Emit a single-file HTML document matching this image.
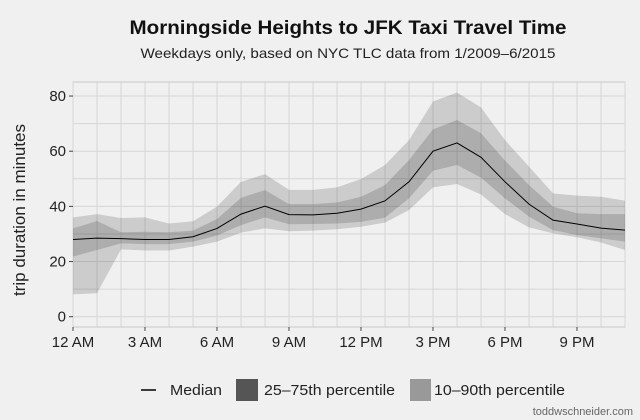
<!DOCTYPE html>
<html><head><meta charset="utf-8"><style>
html,body{margin:0;padding:0;background:#f0f0f0;}
svg{display:block;font-family:"Liberation Sans",sans-serif;}
</style></head><body>
<svg id="chart" width="640" height="420" viewBox="0 0 640 420">
<rect x="0" y="0" width="640" height="420" fill="#f0f0f0"/>
<text x="348" y="34" text-anchor="middle" font-size="19" font-weight="bold" fill="#111" textLength="437" lengthAdjust="spacingAndGlyphs">Morningside Heights to JFK Taxi Travel Time</text>
<text x="348" y="58" text-anchor="middle" font-size="14" fill="#222" textLength="415" lengthAdjust="spacingAndGlyphs">Weekdays only, based on NYC TLC data from 1/2009–6/2015</text>
<g id="grid"></g>
<g id="bands"></g>
<g id="axes"></g>
<text transform="translate(25,210) rotate(-90)" text-anchor="middle" font-size="17" fill="#222">trip duration in minutes</text>
<g>
<line x1="141" y1="390" x2="156" y2="390" stroke="#000" stroke-width="1.5"/>
<text x="170" y="395" font-size="15" fill="#222" textLength="52" lengthAdjust="spacingAndGlyphs">Median</text>
<rect x="236" y="379" width="22" height="22" fill="#555"/>
<text x="264" y="395" font-size="15" fill="#222" textLength="131" lengthAdjust="spacingAndGlyphs">25–75th percentile</text>
<rect x="410" y="379" width="21" height="22" fill="#999"/>
<text x="434" y="395" font-size="15" fill="#222" textLength="131" lengthAdjust="spacingAndGlyphs">10–90th percentile</text>
</g>
<text x="633" y="415" text-anchor="end" font-size="11" fill="#666">toddwschneider.com</text>
</svg>
<script>
const hours = [0,1,2,3,4,5,6,7,8,9,10,11,12,13,14,15,16,17,18,19,20,21,22,23];
const median = [28,28.5,28.3,28,28,29,32,37.2,40.1,37,36.9,37.5,39,42,48.9,60,63,57.8,48.9,40.8,35,33.6,32.1,31.4];
const p25 = [21.8,24.2,26.6,26.3,26.3,27.2,29.4,33.2,36,33.5,33.6,33.8,34.4,35.9,42.9,52.9,55,50.4,42.9,36.3,31.4,29.6,28.4,27.2];
const p75 = [32,34.7,30.6,30.8,30.6,31.2,35.4,43.1,45.9,40.8,40.8,41.4,43.5,47.7,56.8,67.9,71.3,66.5,56.6,47.7,39.9,37.5,37.2,37.2];
const p10 = [8.1,8.5,24.4,24,24,25.4,27.2,30.5,32,31,31.2,31.7,32.6,34.1,38.7,46.9,48.1,44.3,37.2,32.4,30.2,28.8,26.9,24.2];
const p90 = [36,37.2,35.8,36,33.8,34.6,39.9,48.9,51.7,46,46,46.9,49.9,55,64,78,81.3,75.9,64,54.4,44.7,43.9,43.5,42.1];
const yTicks = [0,20,40,60,80];
const xTickHours = [0,3,6,9,12,15,18,21];
const xTickLabels = ["12 AM","3 AM","6 AM","9 AM","12 PM","3 PM","6 PM","9 PM"];

const NS = "http://www.w3.org/2000/svg";
const L = 73, R = 625, T = 82, B = 327;
const x = h => L + (h / 23) * (R - L);
const y = v => 316.7 - v * 2.7583;
function mk(tag, attrs, parent){const e=document.createElementNS(NS,tag);for(const k in attrs)e.setAttribute(k,attrs[k]);parent.appendChild(e);return e;}

const grid = document.getElementById('grid');
const panel = mk('rect',{x:L,y:T,width:R-L,height:B-T,fill:'#f0f0f0',stroke:'#c8c8c8','stroke-width':1},grid);


for (let v = 0; v <= 80; v += 10) {
  const g = mk('line',{x1:L,x2:R,y1:y(v),y2:y(v),stroke:'#d6d6d6','stroke-width':1},grid);
  
  
}
for (const h of hours) {
  const g = mk('line',{x1:x(h),x2:x(h),y1:T,y2:B,stroke:'#d6d6d6','stroke-width':1},grid);
  
  
}

const bands = document.getElementById('bands');
function bandPath(lo, hi){
  let d = hours.map((h,i)=>(i?'L':'M')+x(h)+','+y(hi[i])).join(' ');
  for (let i = hours.length-1; i >= 0; i--) d += ' L'+x(hours[i])+','+y(lo[i]);
  return d+' Z';
}
const outer = mk('path',{d:bandPath(p10,p90),fill:'#000','fill-opacity':0.15},bands);


const inner = mk('path',{d:bandPath(p25,p75),fill:'#000','fill-opacity':0.15},bands);


const med = mk('path',{d:hours.map((h,i)=>(i?'L':'M')+x(h)+','+y(median[i])).join(' '),fill:'none',stroke:'#000','stroke-width':1},bands);



const axes = document.getElementById('axes');
yTicks.forEach(v=>{
  const t = mk('line',{x1:L-4,x2:L,y1:y(v),y2:y(v),stroke:'#444'},axes);
  
  
  const lb = mk('text',{x:L-7,y:y(v)+5,'text-anchor':'end','font-size':15,fill:'#222'},axes);
  lb.textContent = v;
  
  
});
xTickHours.forEach((h,i)=>{
  const t = mk('line',{x1:x(h),x2:x(h),y1:B,y2:B+4,stroke:'#444'},axes);
  
  
  const lb = mk('text',{x:x(h),y:B+20,'text-anchor':'middle','font-size':15,fill:'#222'},axes);
  lb.textContent = xTickLabels[i];
  
  
});
</script>
</body></html>
